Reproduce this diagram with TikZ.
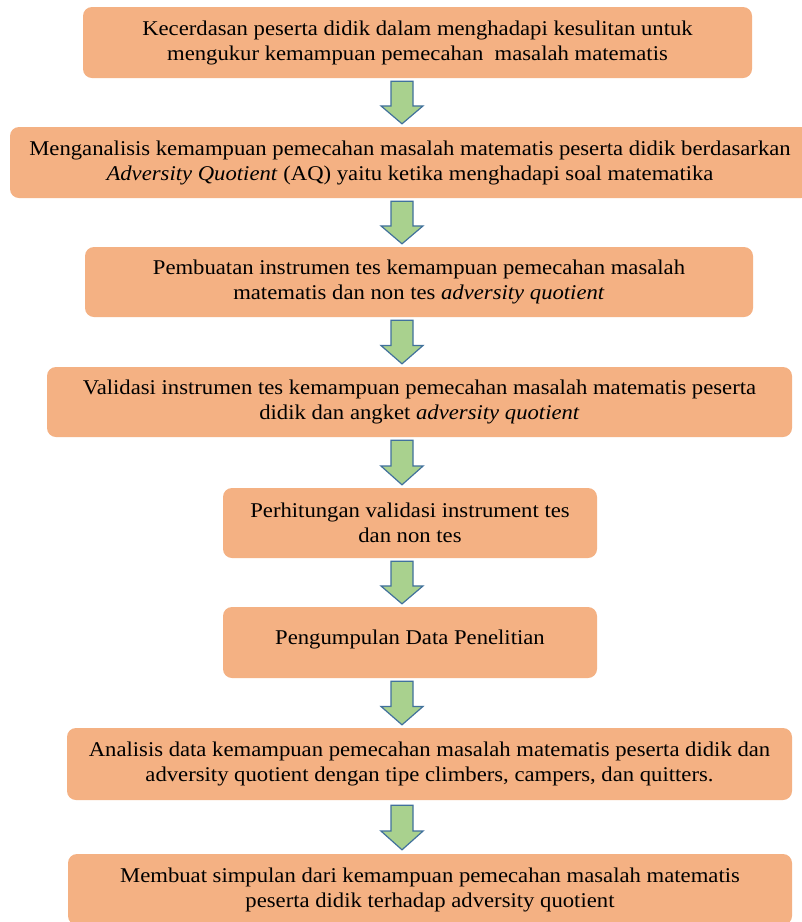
\documentclass[tikz,border=0pt]{standalone}
\usepackage{fontspec}
\setmainfont[FakeStretch=1.08]{Liberation Serif}
\usetikzlibrary{calc}
\definecolor{boxfill}{HTML}{F4B183}
\definecolor{arrfill}{HTML}{A9D18E}
\definecolor{arrline}{HTML}{41719C}
\newcommand{\flowarrow}[2]{%
  \draw[blk] ($(#1)+(-11,0)$) -- ($(#1)+(11,0)$) -- ($(#1)!0.58!(#2)+(11,0)$)
    -- ($(#1)!0.58!(#2)+(21,0)$) -- (#2) -- ($(#1)!0.58!(#2)+(-21,0)$)
    -- ($(#1)!0.58!(#2)+(-11,0)$) -- cycle;}
\begin{document}
\begin{tikzpicture}[x=1pt,y=-1pt,
  flowbox/.style={fill=boxfill, rounded corners=9pt, inner sep=0pt,
    align=center, font=\fontsize{21}{25}\selectfont, text=black},
  blk/.style={fill=arrfill, draw=arrline, line width=1.2pt, line join=miter}]
\useasboundingbox (0,0) rectangle (802,922);
\fill[white] (0,0) rectangle (802,922);
\node[flowbox, minimum width=669pt, minimum height=71pt] (b1) at (417.5,42.5)
  {Kecerdasan peserta didik dalam menghadapi kesulitan untuk\\mengukur kemampuan pemecahan\ \ masalah matematis};
\node[flowbox, minimum width=800pt, minimum height=71pt] (b2) at (410,162.5)
  {Menganalisis kemampuan pemecahan masalah matematis peserta didik berdasarkan\\\textit{Adversity Quotient} (AQ) yaitu ketika menghadapi soal matematika};
\node[flowbox, minimum width=668pt, minimum height=70pt] (b3) at (419,282)
  {Pembuatan instrumen tes kemampuan pemecahan masalah\\matematis dan non tes \textit{adversity quotient}};
\node[flowbox, minimum width=745pt, minimum height=70pt] (b4) at (419.5,402)
  {Validasi instrumen tes kemampuan pemecahan masalah matematis peserta\\didik dan angket \textit{adversity quotient}};
\node[flowbox, minimum width=374pt, minimum height=70pt] (b5) at (410,523)
  {Perhitungan validasi instrument tes\\dan non tes};
\node[flowbox, minimum width=374pt, minimum height=71pt, text depth=10pt] (b6) at (410,642.5)
  {Pengumpulan Data Penelitian};
\node[flowbox, minimum width=725pt, minimum height=72pt] (b7) at (429.5,764)
  {Analisis data kemampuan pemecahan masalah matematis peserta didik dan\\adversity quotient dengan tipe climbers, campers, dan quitters.};
\node[flowbox, minimum width=724pt, minimum height=71pt] (b8) at (430,889.5)
  {Membuat simpulan dari kemampuan pemecahan masalah matematis\\peserta didik terhadap adversity quotient};
\coordinate (ax) at (402,0);
\coordinate (s1) at ($(b1.south -| ax)+(0,3)$); \coordinate (t1) at ($(b2.north -| ax)+(0,-3)$);
\coordinate (s2) at ($(b2.south -| ax)+(0,3)$); \coordinate (t2) at ($(b3.north -| ax)+(0,-3)$);
\coordinate (s3) at ($(b3.south -| ax)+(0,3)$); \coordinate (t3) at ($(b4.north -| ax)+(0,-3)$);
\coordinate (s4) at ($(b4.south -| ax)+(0,3)$); \coordinate (t4) at ($(b5.north -| ax)+(0,-3)$);
\coordinate (s5) at ($(b5.south -| ax)+(0,3)$); \coordinate (t5) at ($(b6.north -| ax)+(0,-3)$);
\coordinate (s6) at ($(b6.south -| ax)+(0,3)$); \coordinate (t6) at ($(b7.north -| ax)+(0,-3)$);
\coordinate (s7) at ($(b7.south -| ax)+(0,5)$); \coordinate (t7) at ($(b8.north -| ax)+(0,-4)$);
\flowarrow{s1}{t1}
\flowarrow{s2}{t2}
\flowarrow{s3}{t3}
\flowarrow{s4}{t4}
\flowarrow{s5}{t5}
\flowarrow{s6}{t6}
\flowarrow{s7}{t7}
\end{tikzpicture}
\end{document}
